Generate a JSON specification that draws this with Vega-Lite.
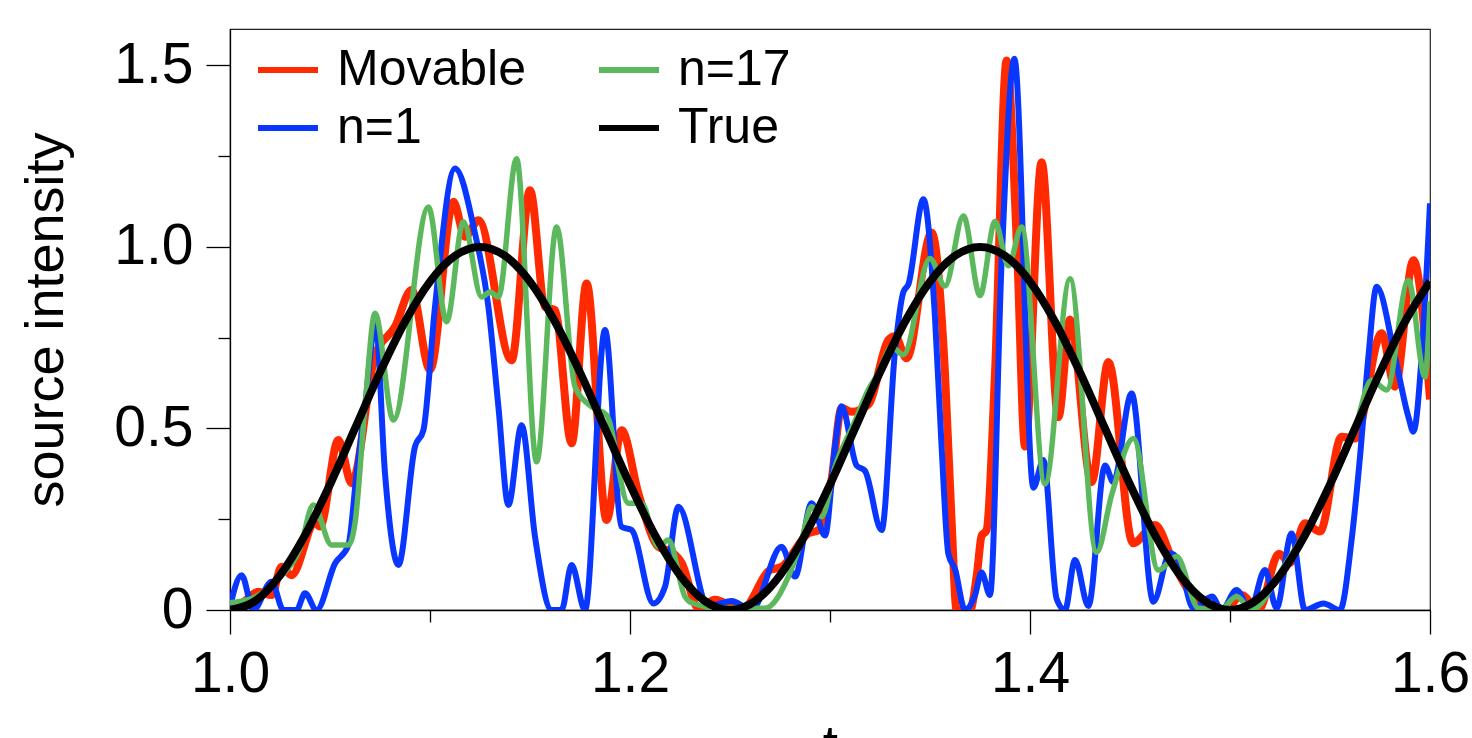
{
  "$schema": "https://vega.github.io/schema/vega-lite/v6.json",
  "width": 1200,
  "height": 581,
  "autosize": {"type": "none"},
  "padding": {"left": 230, "top": 29, "right": 42, "bottom": 128},
  "background": "white",
  "config": {
    "view": {"stroke": "#222", "strokeWidth": 1.2},
    "font": "Liberation Sans"
  },
  "datasets": {
    "mov": [
      {"t":1.0,"v":0.01},{"t":1.006,"v":0.02},{"t":1.0142,"v":0.05},{"t":1.0208,"v":0.041},{"t":1.0258,"v":0.119},{"t":1.0308,"v":0.096},{"t":1.0425,"v":0.239},{"t":1.045,"v":0.23},{"t":1.0542,"v":0.468},{"t":1.0608,"v":0.349},{"t":1.0725,"v":0.70},{"t":1.0825,"v":0.78},{"t":1.0908,"v":0.881},{"t":1.1,"v":0.661},{"t":1.1117,"v":1.124},{"t":1.1175,"v":1.028},{"t":1.1242,"v":1.073},{"t":1.1408,"v":0.688},{"t":1.15,"v":1.156},{"t":1.1575,"v":0.835},{"t":1.1625,"v":0.826},{"t":1.1708,"v":0.459},{"t":1.1783,"v":0.899},{"t":1.1883,"v":0.248},{"t":1.1958,"v":0.495},{"t":1.2042,"v":0.321},{"t":1.2142,"v":0.174},{"t":1.2208,"v":0.16},{"t":1.2258,"v":0.13},{"t":1.2342,"v":0.005},{"t":1.2425,"v":0.028},{"t":1.2558,"v":0.0},{"t":1.27,"v":0.11},{"t":1.2758,"v":0.119},{"t":1.2892,"v":0.211},{"t":1.2942,"v":0.22},{"t":1.2975,"v":0.27},{"t":1.3008,"v":0.36},{"t":1.3058,"v":0.556},{"t":1.3108,"v":0.546},{"t":1.3192,"v":0.566},{"t":1.3292,"v":0.744},{"t":1.3325,"v":0.754},{"t":1.3383,"v":0.693},{"t":1.3508,"v":1.039},{"t":1.3575,"v":0.652},{"t":1.3608,"v":0.245},{"t":1.3633,"v":0.0},{"t":1.37,"v":0.0},{"t":1.3735,"v":0.1},{"t":1.3758,"v":0.204},{"t":1.3783,"v":0.22},{"t":1.3825,"v":0.652},{"t":1.3883,"v":1.513},{"t":1.3935,"v":1.0},{"t":1.3975,"v":0.45},{"t":1.4058,"v":1.233},{"t":1.4142,"v":0.531},{"t":1.42,"v":0.80},{"t":1.4308,"v":0.352},{"t":1.4392,"v":0.683},{"t":1.4515,"v":0.184},{"t":1.4625,"v":0.234},{"t":1.4725,"v":0.119},{"t":1.4825,"v":0.028},{"t":1.4892,"v":0.0},{"t":1.4975,"v":0.0},{"t":1.5058,"v":0.041},{"t":1.5142,"v":0.0},{"t":1.5245,"v":0.155},{"t":1.53,"v":0.13},{"t":1.5375,"v":0.239},{"t":1.545,"v":0.216},{"t":1.5558,"v":0.477},{"t":1.5625,"v":0.472},{"t":1.5758,"v":0.762},{"t":1.5825,"v":0.615},{"t":1.5917,"v":0.963},{"t":1.6,"v":0.58}
    ],
    "n1": [
      {"t":1.0,"v":0.01},{"t":1.0058,"v":0.096},{"t":1.0117,"v":0.0},{"t":1.0208,"v":0.078},{"t":1.0267,"v":0.0},{"t":1.0333,"v":0.0},{"t":1.0375,"v":0.046},{"t":1.0433,"v":0.0},{"t":1.0525,"v":0.128},{"t":1.0592,"v":0.179},{"t":1.0633,"v":0.376},{"t":1.0675,"v":0.56},{"t":1.0728,"v":0.789},{"t":1.0775,"v":0.376},{"t":1.0842,"v":0.124},{"t":1.0925,"v":0.45},{"t":1.0967,"v":0.495},{"t":1.1025,"v":0.835},{"t":1.1125,"v":1.216},{"t":1.1225,"v":1.037},{"t":1.1292,"v":0.835},{"t":1.1342,"v":0.56},{"t":1.1392,"v":0.289},{"t":1.1458,"v":0.509},{"t":1.1525,"v":0.202},{"t":1.1608,"v":0.0},{"t":1.1658,"v":0.0},{"t":1.1708,"v":0.124},{"t":1.1775,"v":0.0},{"t":1.1875,"v":0.771},{"t":1.1958,"v":0.229},{"t":1.2008,"v":0.22},{"t":1.2117,"v":0.018},{"t":1.2175,"v":0.064},{"t":1.2242,"v":0.284},{"t":1.2392,"v":0.01},{"t":1.2508,"v":0.025},{"t":1.2608,"v":0.0},{"t":1.2758,"v":0.174},{"t":1.2825,"v":0.092},{"t":1.2908,"v":0.294},{"t":1.2975,"v":0.205},{"t":1.3025,"v":0.45},{"t":1.3058,"v":0.561},{"t":1.3133,"v":0.398},{"t":1.3175,"v":0.383},{"t":1.3258,"v":0.22},{"t":1.3325,"v":0.713},{"t":1.3367,"v":0.876},{"t":1.3392,"v":0.897},{"t":1.3467,"v":1.131},{"t":1.3525,"v":0.805},{"t":1.3558,"v":0.449},{"t":1.3592,"v":0.154},{"t":1.3625,"v":0.113},{"t":1.3675,"v":0.0},{"t":1.3725,"v":0.041},{"t":1.3758,"v":0.103},{"t":1.38,"v":0.041},{"t":1.3858,"v":0.958},{"t":1.3922,"v":1.518},{"t":1.4017,"v":0.337},{"t":1.4067,"v":0.413},{"t":1.4133,"v":0.031},{"t":1.4175,"v":0.0},{"t":1.4225,"v":0.138},{"t":1.4292,"v":0.011},{"t":1.4375,"v":0.398},{"t":1.4417,"v":0.352},{"t":1.4508,"v":0.596},{"t":1.4617,"v":0.023},{"t":1.47,"v":0.156},{"t":1.4742,"v":0.138},{"t":1.4817,"v":0.005},{"t":1.491,"v":0.037},{"t":1.4958,"v":0.0},{"t":1.5033,"v":0.055},{"t":1.51,"v":0.0},{"t":1.5175,"v":0.11},{"t":1.5233,"v":0.005},{"t":1.5308,"v":0.211},{"t":1.5375,"v":0.0},{"t":1.5467,"v":0.018},{"t":1.555,"v":0.0},{"t":1.5608,"v":0.193},{"t":1.565,"v":0.422},{"t":1.5692,"v":0.697},{"t":1.5733,"v":0.89},{"t":1.5825,"v":0.697},{"t":1.5892,"v":0.532},{"t":1.5917,"v":0.491},{"t":1.5958,"v":0.697},{"t":1.6,"v":1.12}
    ],
    "n17": [
      {"t":1.0,"v":0.02},{"t":1.01,"v":0.03},{"t":1.025,"v":0.09},{"t":1.035,"v":0.17},{"t":1.0417,"v":0.289},{"t":1.0508,"v":0.179},{"t":1.0592,"v":0.179},{"t":1.0625,"v":0.239},{"t":1.0675,"v":0.56},{"t":1.0725,"v":0.817},{"t":1.0817,"v":0.523},{"t":1.0992,"v":1.11},{"t":1.1083,"v":0.794},{"t":1.1167,"v":1.069},{"t":1.1258,"v":0.862},{"t":1.13,"v":0.876},{"t":1.1342,"v":0.862},{"t":1.1433,"v":1.243},{"t":1.1533,"v":0.408},{"t":1.1633,"v":1.055},{"t":1.1725,"v":0.615},{"t":1.1808,"v":0.56},{"t":1.1883,"v":0.537},{"t":1.1992,"v":0.294},{"t":1.2058,"v":0.294},{"t":1.2142,"v":0.174},{"t":1.2192,"v":0.193},{"t":1.2275,"v":0.037},{"t":1.2308,"v":0.02},{"t":1.245,"v":0.005},{"t":1.2675,"v":0.005},{"t":1.2792,"v":0.092},{"t":1.2858,"v":0.193},{"t":1.2908,"v":0.284},{"t":1.2958,"v":0.257},{"t":1.3025,"v":0.394},{"t":1.3125,"v":0.52},{"t":1.3192,"v":0.607},{"t":1.3242,"v":0.652},{"t":1.3308,"v":0.724},{"t":1.3367,"v":0.703},{"t":1.35,"v":0.968},{"t":1.3575,"v":0.892},{"t":1.3667,"v":1.085},{"t":1.375,"v":0.866},{"t":1.3825,"v":1.07},{"t":1.3892,"v":0.948},{"t":1.3958,"v":1.055},{"t":1.4075,"v":0.347},{"t":1.42,"v":0.912},{"t":1.4333,"v":0.159},{"t":1.4408,"v":0.316},{"t":1.4517,"v":0.472},{"t":1.4642,"v":0.11},{"t":1.4733,"v":0.147},{"t":1.4842,"v":0.005},{"t":1.495,"v":0.0},{"t":1.5033,"v":0.037},{"t":1.5108,"v":0.0},{"t":1.5258,"v":0.11},{"t":1.535,"v":0.19},{"t":1.55,"v":0.34},{"t":1.5625,"v":0.5},{"t":1.5708,"v":0.633},{"t":1.5783,"v":0.606},{"t":1.5892,"v":0.908},{"t":1.5975,"v":0.642},{"t":1.6,"v":0.85}
    ],
    "tru": [
      {"t":1.0,"v":0},{"t":1.0125,"v":0.0245},{"t":1.025,"v":0.0955},{"t":1.0375,"v":0.2061},{"t":1.05,"v":0.3455},{"t":1.0625,"v":0.5},{"t":1.075,"v":0.6545},{"t":1.0875,"v":0.7939},{"t":1.1,"v":0.9045},{"t":1.1125,"v":0.9755},{"t":1.125,"v":1.0},{"t":1.1375,"v":0.9755},{"t":1.15,"v":0.9045},{"t":1.1625,"v":0.7939},{"t":1.175,"v":0.6545},{"t":1.1875,"v":0.5},{"t":1.2,"v":0.3455},{"t":1.2125,"v":0.2061},{"t":1.225,"v":0.0955},{"t":1.2375,"v":0.0245},{"t":1.25,"v":0},{"t":1.2625,"v":0.0245},{"t":1.275,"v":0.0955},{"t":1.2875,"v":0.2061},{"t":1.3,"v":0.3455},{"t":1.3125,"v":0.5},{"t":1.325,"v":0.6545},{"t":1.3375,"v":0.7939},{"t":1.35,"v":0.9045},{"t":1.3625,"v":0.9755},{"t":1.375,"v":1.0},{"t":1.3875,"v":0.9755},{"t":1.4,"v":0.9045},{"t":1.4125,"v":0.7939},{"t":1.425,"v":0.6545},{"t":1.4375,"v":0.5},{"t":1.45,"v":0.3455},{"t":1.4625,"v":0.2061},{"t":1.475,"v":0.0955},{"t":1.4875,"v":0.0245},{"t":1.5,"v":0},{"t":1.5125,"v":0.0245},{"t":1.525,"v":0.0955},{"t":1.5375,"v":0.2061},{"t":1.55,"v":0.3455},{"t":1.5625,"v":0.5},{"t":1.575,"v":0.6545},{"t":1.5875,"v":0.7939},{"t":1.6,"v":0.9045}
    ]
  },
  "encoding": {
    "x": {
      "field": "t", "type": "quantitative",
      "scale": {"domain": [1.0, 1.6], "nice": false, "zero": false},
      "axis": {
        "values": [1.0, 1.1, 1.2, 1.3, 1.4, 1.5, 1.6],
        "labelExpr": "round(datum.value*10) % 2 === 1 ? '' : format(datum.value, '.1f')",
        "tickSize": {"condition": {"test": "round(datum.value*10) % 2 === 1", "value": 12}, "value": 24},
        "tickColor": "#000", "tickWidth": 1.3,
        "domainColor": "#000", "domainWidth": 1.3,
        "labelFont": "Liberation Sans", "labelFontSize": 57, "labelColor": "#000",
        "labelPadding": 12, "labelFlush": false, "labelOverlap": false,
        "grid": false,
        "title": "t", "titleFont": "Liberation Sans", "titleFontSize": 55, "titleFontWeight": "normal",
        "titleColor": "#000", "titleY": 153, "titleBaseline": "alphabetic"
      }
    },
    "y": {
      "field": "v", "type": "quantitative",
      "scale": {"domain": [0, 1.6], "nice": false},
      "axis": {
        "values": [0, 0.25, 0.5, 0.75, 1.0, 1.25, 1.5],
        "labelExpr": "datum.value === 0 ? '0' : (round(datum.value*4) % 2 === 1 ? '' : format(datum.value, '.1f'))",
        "tickSize": {"condition": {"test": "round(datum.value*4) % 2 === 1", "value": 12}, "value": 24},
        "tickColor": "#000", "tickWidth": 1.3,
        "domainColor": "#000", "domainWidth": 1.3,
        "labelFont": "Liberation Sans", "labelFontSize": 57, "labelColor": "#000",
        "labelPadding": 13, "labelOverlap": false, "labelFlush": false,
        "grid": false,
        "title": "source intensity", "titleFont": "Liberation Sans", "titleFontSize": 54, "titleFontWeight": "normal",
        "titleColor": "#000", "titleX": -168, "titleY": 290.5, "titleAngle": 270,
        "titleBaseline": "alphabetic", "titleAlign": "center"
      }
    }
  },
  "layer": [
    {
      "data": {"name": "mov"},
      "mark": {"type": "line", "interpolate": "monotone", "strokeWidth": 8, "clip": true},
      "encoding": {
        "color": {
          "datum": "Movable", "type": "nominal",
          "scale": {"domain": ["Movable", "n=1", "n=17", "True"], "range": ["#ff2a00", "#0a37ff", "#5cb85c", "#000000"]},
          "legend": {
            "title": null, "orient": "none", "legendX": 25, "legendY": 8,
            "columns": 2, "symbolType": "stroke", "symbolSize": 3600, "symbolStrokeWidth": 6,
            "labelFont": "Liberation Sans", "labelFontSize": 50, "labelColor": "#000", "labelLimit": 500,
            "labelOffset": 16, "columnPadding": 61, "rowPadding": 0, "padding": 0
          }
        }
      }
    },
    {
      "data": {"name": "n1"},
      "mark": {"type": "line", "interpolate": "monotone", "strokeWidth": 6, "clip": true},
      "encoding": {"color": {"datum": "n=1", "type": "nominal"}}
    },
    {
      "data": {"name": "n17"},
      "mark": {"type": "line", "interpolate": "monotone", "strokeWidth": 5.5, "clip": true},
      "encoding": {"color": {"datum": "n=17", "type": "nominal"}}
    },
    {
      "data": {"name": "tru"},
      "mark": {"type": "line", "interpolate": "monotone", "strokeWidth": 8, "clip": true},
      "encoding": {"color": {"datum": "True", "type": "nominal"}}
    }
  ]
}
